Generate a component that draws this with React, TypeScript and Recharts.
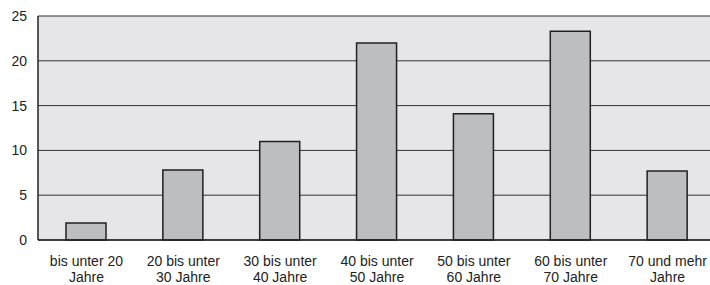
import React from "react";
import { BarChart, Bar, XAxis, YAxis, CartesianGrid } from "recharts";

// age groups, each label split in two lines as in the print
const labelLine1 = [
  "bis unter 20",
  "20 bis unter",
  "30 bis unter",
  "40 bis unter",
  "50 bis unter",
  "60 bis unter",
  "70 und mehr",
];
const labelLine2 = ["Jahre", "30 Jahre", "40 Jahre", "50 Jahre", "60 Jahre", "70 Jahre", "Jahre"];
const values = [1.9, 7.8, 11.0, 22.0, 14.1, 23.3, 7.7];
const yTicks = [0, 5, 10, 15, 20, 25];

const data = labelLine1.map((l, i) => ({ key: String(i), value: values[i] }));

const font = "'Liberation Sans', Arial, sans-serif";

function AgeTick(props: any) {
  const { x, y, payload } = props;
  const i = Number(payload.value);
  return (
    <g transform={`translate(${x},${y})`}>
      <text textAnchor="middle" fontSize={14} fontFamily={font} fill="#222">
        <tspan x={0} dy={26}>{labelLine1[i]}</tspan>
        <tspan x={0} dy={16}>{labelLine2[i]}</tspan>
      </text>
    </g>
  );
}

export default function App() {
  return (
    <div
      style={{
        position: "fixed",
        left: 0,
        top: 0,
        width: 710,
        height: 285,
        overflow: "hidden",
        background: "#fff",
      }}
    >
      <BarChart
        width={716}
        height={285}
        data={data}
        margin={{ top: 16, right: 0, bottom: 0, left: 0 }}
        barSize={40}
      >
        <CartesianGrid
          vertical={false}
          fill="#e6e6e8"
          stroke="#333"
          strokeWidth={1}
          strokeOpacity={1}
        />
        <XAxis
          dataKey="key"
          height={45}
          tick={<AgeTick />}
          tickLine={false}
          tickSize={0}
          tickMargin={0}
          axisLine={{ stroke: "#222", strokeWidth: 1.5 }}
          interval={0}
        />
        <YAxis
          width={38}
          domain={[0, 25]}
          ticks={yTicks}
          tickLine={false}
          tickSize={0}
          tickMargin={11}
          axisLine={{ stroke: "#222", strokeWidth: 1.5 }}
          tick={{ fontSize: 14, fontFamily: font, fill: "#222" }}
        />
        <Bar
          dataKey="value"
          fill="#bdbec0"
          stroke="#231f20"
          strokeWidth={1.5}
          isAnimationActive={false}
        />
      </BarChart>
    </div>
  );
}
